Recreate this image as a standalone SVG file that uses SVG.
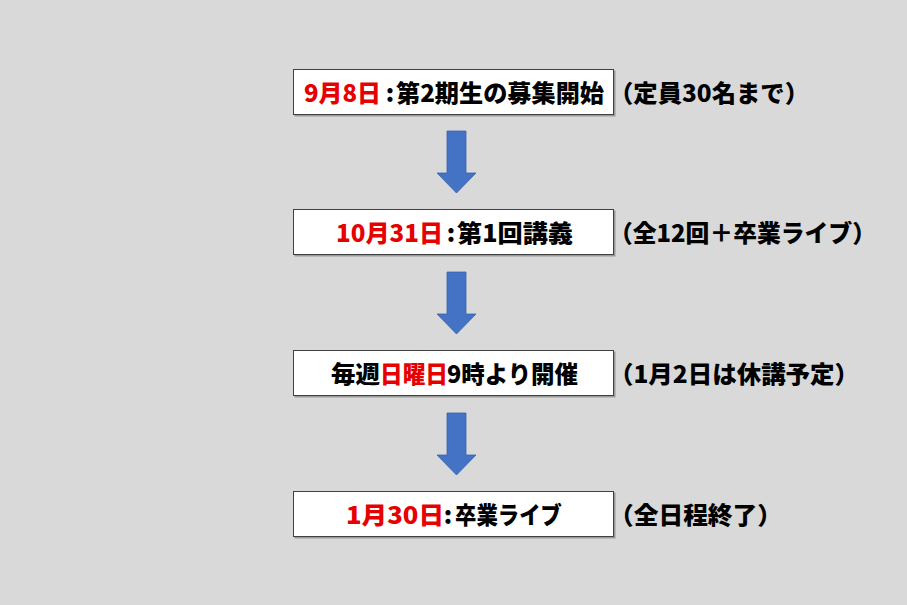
<svg xmlns="http://www.w3.org/2000/svg" width="907" height="605" viewBox="0 0 907 605">
<style>
.bg{fill:#d9d9d9}
.box{fill:#ffffff;stroke:#404040;stroke-width:1}
.sh{fill:#9a9a9a}
.t{font-family:"Noto Sans CJK JP","Noto Sans",sans-serif;font-weight:900;font-size:24px;fill:#000000}
.r{fill:#e60000}
.c{text-anchor:middle}
.arrow{fill:#4472c4;stroke:#3a63ad;stroke-width:0.8}
</style>
<defs>
<path id="arr" class="arrow" d="M0,0 H19 V42 H29 L9.5,62 L-10,42 H0 Z"/>
</defs>
<rect class="bg" x="0" y="0" width="907" height="605"/>
<g id="n1">
<rect class="sh" x="294.5" y="70.5" width="321" height="46"/>
<rect class="box" x="293.5" y="69.5" width="320" height="45"/>
<text class="t r" x="304" y="102" textLength="77" lengthAdjust="spacingAndGlyphs">9月8日</text>
<text class="t c" x="390" y="102">:</text>
<text class="t" x="396" y="102" textLength="208" lengthAdjust="spacingAndGlyphs">第2期生の募集開始</text>
<text class="t" x="609" y="102" textLength="200" lengthAdjust="spacingAndGlyphs">（定員30名まで）</text>
</g>
<g id="n2">
<rect class="sh" x="294.5" y="210.5" width="321" height="46"/>
<rect class="box" x="293.5" y="209.5" width="320" height="45"/>
<text class="t r" x="336" y="242" textLength="107" lengthAdjust="spacingAndGlyphs">10月31日</text>
<text class="t c" x="451" y="242">:</text>
<text class="t" x="457" y="242" textLength="116" lengthAdjust="spacingAndGlyphs">第1回講義</text>
<text class="t" x="609" y="242" textLength="267" lengthAdjust="spacingAndGlyphs">（全12回＋卒業ライブ）</text>
</g>
<g id="n3">
<rect class="sh" x="294.5" y="351.5" width="321" height="46"/>
<rect class="box" x="293.5" y="350.5" width="320" height="45"/>
<text class="t" x="331" y="383" textLength="49" lengthAdjust="spacingAndGlyphs">毎週</text>
<text class="t r" x="380" y="383" textLength="68" lengthAdjust="spacingAndGlyphs">日曜日</text>
<text class="t" x="447" y="383" textLength="131" lengthAdjust="spacingAndGlyphs">9時より開催</text>
<text class="t" x="609" y="383" textLength="250" lengthAdjust="spacingAndGlyphs">（1月2日は休講予定）</text>
</g>
<g id="n4">
<rect class="sh" x="294.5" y="492.5" width="321" height="46"/>
<rect class="box" x="293.5" y="491.5" width="320" height="45"/>
<text class="t r" x="346" y="524" textLength="98" lengthAdjust="spacingAndGlyphs">1月30日</text>
<text class="t c" x="448" y="524">:</text>
<text class="t" x="455" y="524" textLength="107" lengthAdjust="spacingAndGlyphs">卒業ライブ</text>
<text class="t" x="609" y="524" textLength="173" lengthAdjust="spacingAndGlyphs">（全日程終了）</text>
</g>
<g id="connectors">
<use href="#arr" x="447" y="131"/>
<use href="#arr" x="447" y="272"/>
<use href="#arr" x="447" y="413"/>
</g>
</svg>
